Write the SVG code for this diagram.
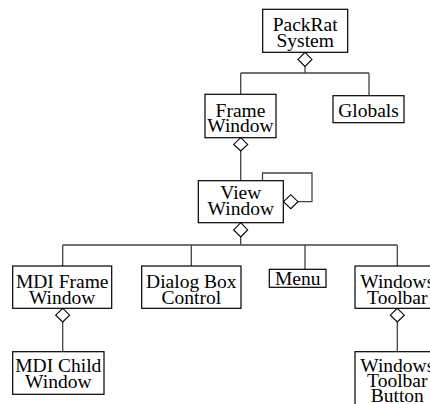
<svg xmlns="http://www.w3.org/2000/svg" width="430" height="404" viewBox="0 0 430 404">
<style>
.box{fill:#fff;stroke:#000;stroke-width:1.2}
.t{font-family:"Liberation Serif","Times New Roman",serif;font-size:19.5px;fill:#000;text-anchor:middle}
.ln{fill:none;stroke:#444;stroke-width:1.3}
.dm{fill:#fff;stroke:#000;stroke-width:1.1}
</style>
<rect width="430" height="404" fill="#fff"/>
<g id="connectors">
<path class="ln" d="M305,66.5 V73 M240.7,73 H369 M240.7,73 V94.3 M369,73 V95.7"/>
<path class="ln" d="M240.7,151 V180.7"/>
<path class="ln" d="M262.5,180.7 V173 H312 V201.7 H298"/>
<path class="ln" d="M240.7,237 V245 M62.7,245 H397.3 M62.7,245 V266 M191.3,245 V266 M305,245 V269.3 M397.3,245 V266"/>
<path class="ln" d="M62.7,322 V351.7 M397.3,322 V351.7"/>
<path class="dm" d="M305,52.3 L312,59.4 L305,66.5 L298,59.4 Z"/>
<path class="dm" d="M240.7,137.7 L247.7,144.4 L240.7,151 L233.7,144.4 Z"/>
<path class="dm" d="M240.7,222.7 L247.7,229.9 L240.7,237 L233.7,229.9 Z"/>
<path class="dm" d="M283.5,201.7 L290.8,194.7 L298,201.7 L290.8,208.7 Z"/>
<path class="dm" d="M62.7,308.3 L69.7,315.2 L62.7,322 L55.7,315.2 Z"/>
<path class="dm" d="M397.3,308.3 L404.3,315.2 L397.3,322 L390.3,315.2 Z"/>
</g>
<g id="packrat">
<rect class="box" x="262.7" y="9.3" width="85" height="43"/>
<text class="t" x="305.2" y="31"><tspan x="305.2">PackRat</tspan><tspan x="305.2" y="46.5">System</tspan></text>
</g>
<g id="globals">
<rect class="box" x="333" y="95.7" width="71" height="27"/>
<text class="t" x="368.5" y="116.7">Globals</text>
</g>
<g id="frame-window">
<rect class="box" x="205" y="94.3" width="71" height="43.4"/>
<text class="t" x="240.5" y="116.7"><tspan x="240.5">Frame</tspan><tspan x="240.5" y="132.4">Window</tspan></text>
</g>
<g id="view-window">
<rect class="box" x="198.3" y="180.7" width="85" height="42"/>
<text class="t" x="240.8" y="198.5"><tspan x="240.8">View</tspan><tspan x="240.8" y="214.5">Window</tspan></text>
</g>
<g id="mdi-frame-window">
<rect class="box" x="12.7" y="266" width="99" height="42.3"/>
<text class="t" x="62.2" y="288.3"><tspan x="62.2">MDI Frame</tspan><tspan x="62.2" y="304">Window</tspan></text>
</g>
<g id="dialog-box-control">
<rect class="box" x="141.7" y="266" width="99.3" height="42.3"/>
<text class="t" x="191.3" y="288.3"><tspan x="191.3">Dialog Box</tspan><tspan x="191.3" y="304">Control</tspan></text>
</g>
<g id="menu">
<rect class="box" x="269.3" y="269.3" width="56.7" height="18"/>
<text class="t" x="297.7" y="285.3">Menu</text>
</g>
<g id="windows-toolbar">
<rect class="box" x="355" y="266" width="84.6" height="42.3"/>
<text class="t" x="397.3" y="288.3"><tspan x="397.3">Windows</tspan><tspan x="397.3" y="304">Toolbar</tspan></text>
</g>
<g id="mdi-child-window">
<rect class="box" x="12.7" y="351.7" width="91.3" height="42.6"/>
<text class="t" x="58.3" y="371.7"><tspan x="58.3">MDI Child</tspan><tspan x="58.3" y="388.3">Window</tspan></text>
</g>
<g id="windows-toolbar-button">
<rect class="box" x="355" y="351.7" width="84.6" height="60"/>
<text class="t" x="397.3" y="371.6"><tspan x="397.3">Windows</tspan><tspan x="397.3" y="386.9">Toolbar</tspan><tspan x="397.3" y="402.2">Button</tspan></text>
</g>
</svg>
